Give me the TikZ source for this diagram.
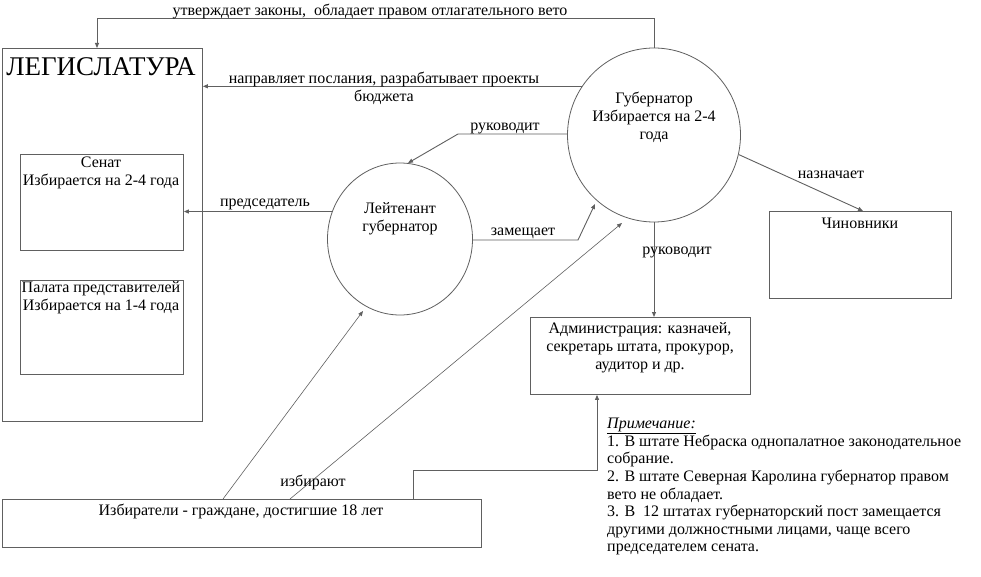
\documentclass[tikz,border=0pt]{standalone}
\usepackage{fontspec}
\setmainfont{Liberation Serif}
\usetikzlibrary{arrows.meta,shapes.geometric}
\definecolor{ln}{HTML}{606060}
\tikzset{
  box/.style={draw=ln, line width=0.9pt, rectangle, inner sep=0pt, anchor=north west},
  circ/.style={draw=ln, line width=0.8pt, ellipse, inner sep=0pt},
  txt/.style={inner sep=0pt, align=center, font=\fontsize{16pt}{18pt}\selectfont},
  con/.style={draw=ln, line width=0.9pt},
  arr/.style={con, -{Triangle[length=5pt,width=4pt]}}
}
\begin{document}
\begin{tikzpicture}[x=1pt,y=-1pt]
\useasboundingbox[fill=white] (0,0) rectangle (981,577);
% boxes
\node[box, minimum width=200pt, minimum height=373pt] (leg) at (2,48) {};
\node[box, minimum width=163pt, minimum height=96pt] (sen) at (20,154) {};
\node[box, minimum width=163pt, minimum height=94pt] (hou) at (20,280) {};
\node[box, minimum width=182pt, minimum height=87pt] (off) at (769,211) {};
\node[box, minimum width=220pt, minimum height=77pt] (adm) at (530,317) {};
\node[box, minimum width=479pt, minimum height=48pt] (vot) at (2,499) {};
% circles
\node[circ, minimum width=173pt, minimum height=174pt] (gov) at (654,135) {};
\node[circ, minimum width=145pt, minimum height=152pt] (lt) at (400,239) {};
% texts in shapes
\node[txt, font=\fontsize{27pt}{30pt}\selectfont] (legt) at (101,67) {ЛЕГИСЛАТУРА};
\node[txt] (sent) at (101,173) {Сенат\\Избирается на 2-4 года};
\node[txt] (hout) at (101,298) {Палата представителей\\Избирается на 1-4 года};
\node[txt] (govt) at (654,117) {Губернатор\\Избирается на 2-4\\года};
\node[txt] (ltt) at (400,219) {Лейтенант\\губернатор};
\node[txt] (offt) at (860,223) {Чиновники};
\node[txt] (admt) at (640,348) {Администрация: казначей,\\секретарь штата, прокурор,\\аудитор и др.};
\node[txt] (vott) at (241,511) {Избиратели - граждане, достигшие 18 лет};
% connectors
\coordinate (c1) at (654,18);
\coordinate (c2) at (97,18);
\draw[arr] (gov.north) -- (c1) -- (c2) -- (c2 |- leg.north);
\draw[arr] (gov.146) -- (gov.146 -| leg.east);
\coordinate (c3) at (458,134);
\draw[arr] (gov.west |- c3) -- (c3) -- (lt.84);
\draw[arr] (lt.158) -- (lt.158 -| sen.east);
\coordinate (c4) at (578,240);
\coordinate (c5) at (595,204);
\draw[arr] (lt.east |- c4) -- (c4) -- (c5);
\draw[arr] (gov.-13) -- (off.north -| 863,0);
\draw[arr] (gov.south) -- (gov.south |- adm.north);
\coordinate (v1) at (223,499);
\coordinate (v2) at (290,499);
\coordinate (t1) at (363,311);
\coordinate (t2) at (622,223);
\draw[arr, line width=0.6pt] (v1) -- (t1);
\draw[arr, line width=0.6pt] (v2) -- (t2);
\coordinate (v3) at (413,499);
\coordinate (c6) at (413,470);
\coordinate (c7) at (597,470);
\draw[arr] (v3) -- (c6) -- (c7) -- (c7 |- adm.south);
% connector labels
\node[txt] (l1) at (370,12) {утверждает законы,\ \ обладает правом отлагательного вето};
\node[txt] (l2) at (384,88) {направляет послания, разрабатывает проекты\\бюджета};
\node[txt] (l3) at (505,128) {руководит};
\node[txt] (l4) at (265,204) {председатель};
\node[txt] (l5) at (523,233) {замещает};
\node[txt] (l6) at (831,175) {назначает};
\node[txt] (l7) at (677,252) {руководит};
\node[txt] (l8) at (313,482) {избирают};
% note
\node[txt, align=left, anchor=north west, font=\fontsize{16pt}{17.6pt}\selectfont] (note) at (607,418) {\underline{\textit{Примечание:}}\\
1. В штате Небраска однопалатное законодательное\\
собрание.\\
2. В штате Северная Каролина губернатор правом\\
вето не обладает.\\
3. В\ \ 12 штатах губернаторский пост замещается\\
другими должностными лицами, чаще всего\\
председателем сената.};
\end{tikzpicture}
\end{document}
